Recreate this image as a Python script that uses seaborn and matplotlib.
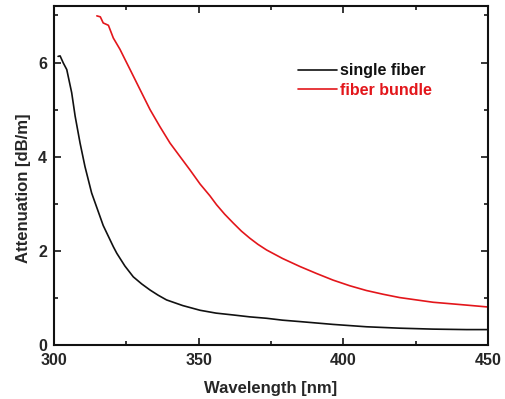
import matplotlib
matplotlib.use("Agg")
import matplotlib.pyplot as plt
import seaborn as sns
import pandas as pd
from matplotlib.ticker import MultipleLocator

# Attenuation spectra
single_wl = [301.4, 302.1, 303.2, 304.4, 306.1, 307.3, 309.0, 310.7, 313.0, 315.9,
             317.0, 320.5, 321.7, 324.5, 327.4, 330.3, 333.2, 336.0, 338.9, 344.5,
             350.5, 356.0, 362.0, 367.7, 373.5, 379.0, 385.0, 396.5, 408.0, 419.5,
             431.0, 442.6, 450.0]
single_att = [6.13, 6.14, 5.99, 5.85, 5.36, 4.86, 4.29, 3.79, 3.23, 2.73,
              2.54, 2.09, 1.95, 1.68, 1.45, 1.30, 1.17, 1.06, 0.96, 0.84,
              0.74, 0.68, 0.64, 0.60, 0.57, 0.53, 0.50, 0.44, 0.39, 0.36,
              0.34, 0.33, 0.33]

bundle_wl = [314.8, 316.0, 317.0, 318.8, 320.5, 322.8, 324.5, 326.3, 329.7, 333.2,
             336.6, 340.1, 343.6, 347.0, 350.5, 353.9, 356.2, 359.0, 362.0, 364.8,
             367.7, 370.5, 373.5, 379.0, 385.0, 390.8, 396.5, 402.3, 408.0, 413.8,
             419.5, 425.3, 431.1, 436.9, 442.6, 450.0]
bundle_att = [6.99, 6.97, 6.84, 6.79, 6.52, 6.28, 6.07, 5.85, 5.43, 5.00,
              4.64, 4.29, 4.00, 3.72, 3.42, 3.17, 2.98, 2.78, 2.59, 2.42,
              2.27, 2.14, 2.02, 1.84, 1.67, 1.52, 1.38, 1.26, 1.16, 1.08,
              1.01, 0.96, 0.91, 0.88, 0.85, 0.81]

labels = ["single fiber", "fiber bundle"]
colors = ["#111111", "#e3161b"]

df = pd.concat([
    pd.DataFrame({"wl": single_wl, "att": single_att, "sample": labels[0]}),
    pd.DataFrame({"wl": bundle_wl, "att": bundle_att, "sample": labels[1]}),
])

sns.set_style("ticks")
plt.rcParams["font.family"] = ["Liberation Sans", "DejaVu Sans"]
plt.rcParams["font.weight"] = "bold"

fig = plt.figure(figsize=(5.05, 3.99), dpi=100)
ax = fig.add_axes([0.107, 0.135, 0.859, 0.850])

sns.lineplot(data=df, x="wl", y="att", hue="sample", palette=colors,
             linewidth=1.2, ax=ax, legend=False, sort=False)

ax.set_xlim(300, 450)
ax.set_ylim(0, 7.2)
ax.xaxis.set_major_locator(MultipleLocator(50))
ax.xaxis.set_minor_locator(MultipleLocator(25))
ax.yaxis.set_major_locator(MultipleLocator(2))
ax.yaxis.set_minor_locator(MultipleLocator(1))
ax.tick_params(which="both", direction="in", top=True, right=True,
               width=1.3, labelsize=11.5)
ax.tick_params(which="major", length=5)
ax.tick_params(which="minor", length=3)
ax.tick_params(axis="x", pad=6)
ax.tick_params(axis="y", pad=5)
for lab in ax.get_xticklabels() + ax.get_yticklabels():
    lab.set_fontweight("bold")
for sp in ax.spines.values():
    sp.set_linewidth(1.5)
    sp.set_color("#111111")

ax.set_xlabel("Wavelength [nm]", fontsize=12, fontweight="bold", labelpad=9)
ax.set_ylabel("Attenuation [dB/m]", fontsize=12, fontweight="bold")
ax.yaxis.set_label_coords(-0.052, 0.463)

handles = [plt.Line2D([], [], color=c, linewidth=1.2) for c in colors]
leg = ax.legend(handles, labels, loc="upper left", bbox_to_anchor=(0.544, 0.855),
                frameon=False, borderpad=0, handlelength=2.45, handletextpad=0.2,
                labelspacing=0.3, prop={"size": 11.5, "weight": "bold"})
for txt, c in zip(leg.get_texts(), colors):
    txt.set_color(c)

fig.savefig("out.png", dpi=100)
